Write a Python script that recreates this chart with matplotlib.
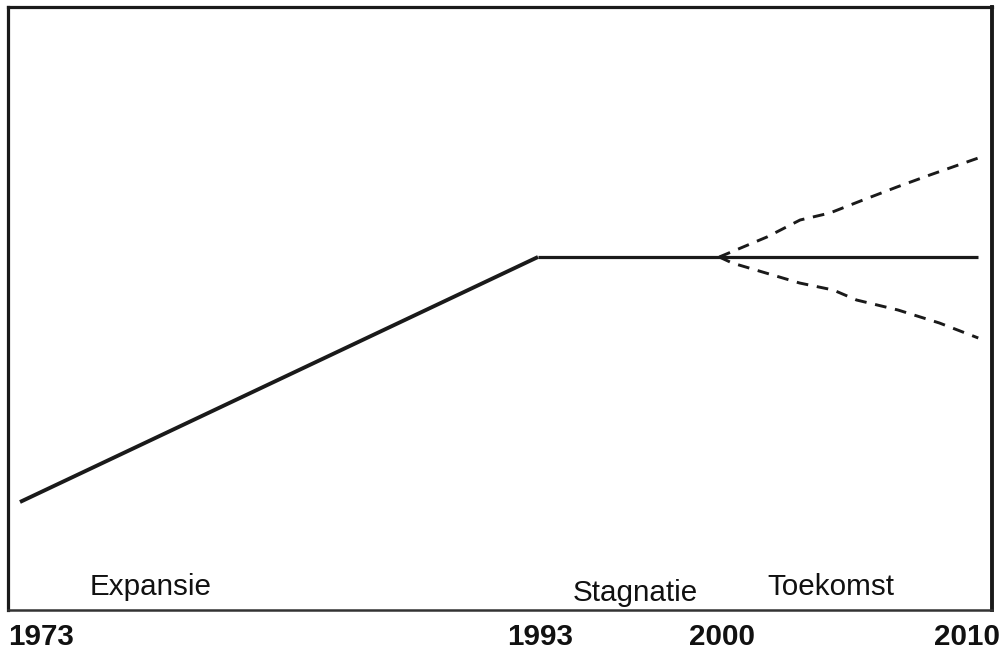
import matplotlib
matplotlib.use("Agg")
import matplotlib.pyplot as plt
import matplotlib.transforms as mtrans

# ---- data ----
main_years = [1973, 1993, 2010]
main_values = [21.6, 70.6, 70.6]

up_years = [2000, 2001.84, 2003.12, 2004.27, 2005.55, 2006.86, 2008.13, 2010]
up_values = [70.6, 74.6, 78.0, 79.4, 82.0, 84.6, 87.0, 90.4]

low_years = [2000, 2000.5, 2003.1, 2004.4, 2005.3, 2006.9, 2008.5, 2010]
low_values = [70.6, 69.4, 65.4, 64.0, 62.0, 60.0, 57.4, 54.4]

phase_labels = ["Expansie", "Stagnatie", "Toekomst"]
phase_x = [1975.7, 1994.35, 2001.84]
phase_y = [3.0, 1.8, 3.0]

tick_years = [1973, 1993, 2000, 2010]
tick_labels = ["1973", "1993", "2000", "2010"]

# ---- figure ----
W, H = 1006, 650
fig = plt.figure(figsize=(W / 100, H / 100), dpi=100)
ax = fig.add_axes([8 / W, (H - 610) / H, 984 / W, 603 / H])
ax.set_xlim(1972.537, 2010.53)
ax.set_ylim(0, 120.6)
ax.set_xticks([])
ax.set_yticks([])
for s in ["left", "top", "right"]:
    ax.spines[s].set_linewidth(2.3)
    ax.spines[s].set_color("#1a1a1a")
ax.spines["right"].set_linewidth(2.8)
ax.spines["bottom"].set_linewidth(1.8)
ax.spines["bottom"].set_color("#333333")

ax.plot(main_years[:2], main_values[:2], color="#1a1a1a", lw=2.8,
        solid_capstyle="butt")
ax.plot(main_years[1:], main_values[1:], color="#1a1a1a", lw=2.3,
        solid_capstyle="butt")

ax.plot(up_years, up_values, color="#1a1a1a", lw=2.1,
        linestyle=(0, (4.0, 3.0)), dash_capstyle="butt")
ax.plot(low_years, low_values, color="#1a1a1a", lw=2.1,
        linestyle=(0, (4.0, 3.0)), dash_capstyle="butt")

font = "Liberation Sans"
for lab, x, y in zip(phase_labels, phase_x, phase_y):
    ax.text(x, y, lab, fontsize=21.3, family=font, ha="left", va="baseline",
            color="#111111")

trans = mtrans.blended_transform_factory(ax.transData, fig.transFigure)
ybase = (H - 645) / H
for yr, lab in zip(tick_years, tick_labels):
    if yr == tick_years[0]:
        x, ha = 1972.537, "left"
    elif yr == tick_years[-1]:
        x, ha = yr + 0.85, "right"
    else:
        x, ha = yr + 0.1, "center"
    ax.text(x, ybase, lab, transform=trans, fontsize=21.3, family=font,
            fontweight="bold", ha=ha, va="baseline", color="#111111",
            clip_on=False)

fig.savefig("out.png", dpi=100)
